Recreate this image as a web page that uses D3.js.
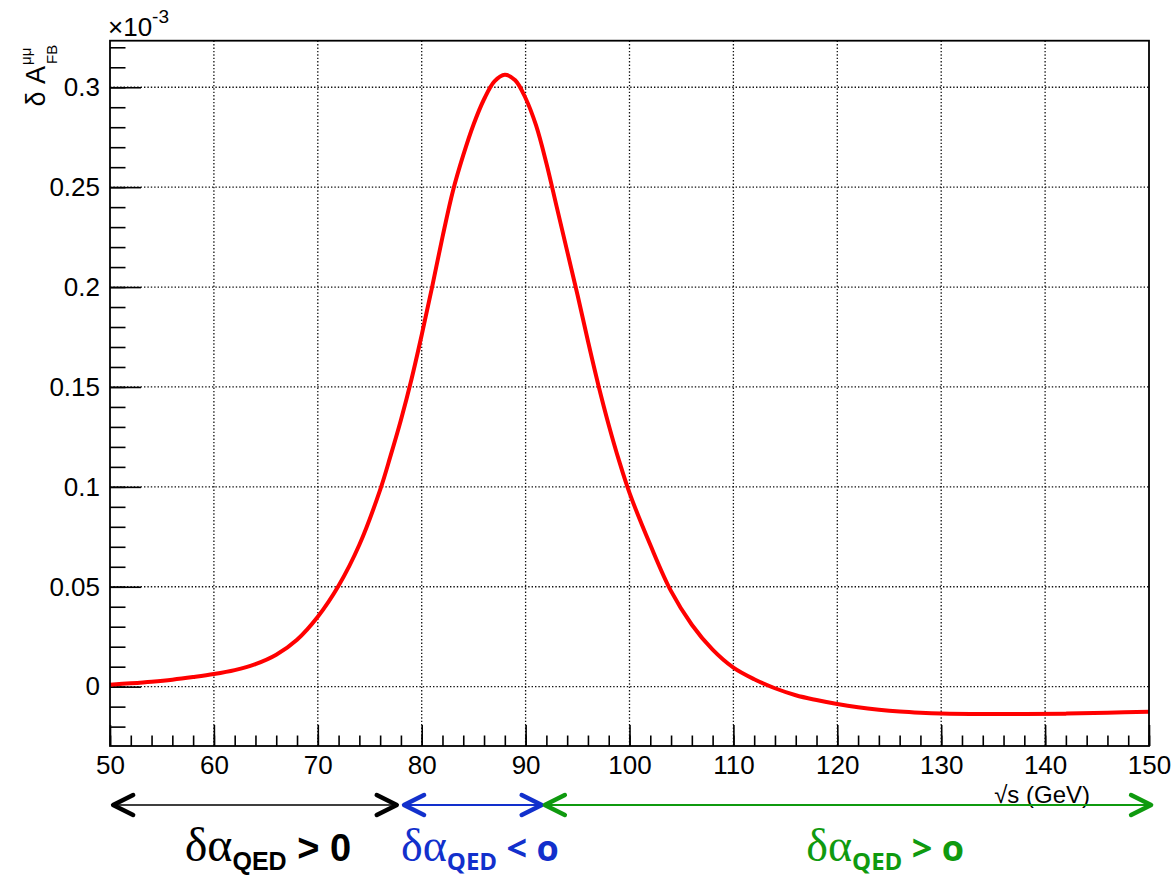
<!DOCTYPE html>
<html>
<head>
<meta charset="utf-8">
<script src="https://cdn.jsdelivr.net/npm/d3@7"></script>
<style>
  body { margin: 0; background: #fff; }
</style>
</head>
<body>
<div id="chart"></div>
<script>
// Data (delta A_FB in units of 1e-3)
const energy = [50, 52, 54, 56, 58, 60, 62, 64, 66, 68, 70, 72, 74, 76, 77, 78, 79, 80,
  81, 82, 83, 84, 85, 86, 87, 88, 89, 90, 91, 92, 93, 94, 95, 96, 97, 98, 99, 100,
  102, 104, 106, 108, 110, 112, 114, 116, 118, 120, 122, 124, 126, 128, 130, 134,
  138, 142, 146, 150];
const deltaAfb = [0.0010, 0.0017, 0.0025, 0.0035, 0.0048, 0.0063, 0.0083, 0.0113,
  0.0160, 0.0235, 0.0350, 0.0505, 0.0710, 0.0985, 0.1155, 0.1335, 0.1535, 0.1760,
  0.2000, 0.2250, 0.2480, 0.2660, 0.2815, 0.2940, 0.3030, 0.3063, 0.3035, 0.2945,
  0.2810, 0.2620, 0.2400, 0.2180, 0.1960, 0.1730, 0.1510, 0.1310, 0.1130, 0.0970,
  0.0710, 0.0478, 0.0310, 0.0185, 0.0095, 0.0037, -0.0008, -0.0043, -0.0067,
  -0.0087, -0.0103, -0.0115, -0.0124, -0.0130, -0.0134, -0.0137, -0.0137, -0.0135,
  -0.0131, -0.0125];

const xTicks = [50, 60, 70, 80, 90, 100, 110, 120, 130, 140, 150];
const yTicks = [0, 0.05, 0.1, 0.15, 0.2, 0.25, 0.3];
const yTickLabels = ["0", "0.05", "0.1", "0.15", "0.2", "0.25", "0.3"];

// regions of sqrt(s) marked with arrows under the axis
const regionFrom = [50.3, 78.3, 91.85];
const regionTo = [77.6, 91.55, 150.2];
const regionLabelAt = [65.2, 85.6, 124.6];
const regionSign = ["> 0", "< o", "> o"];

// styles
const regionColor = ["#000000", "#1230cc", "#0f9a0f"];
const regionFont = ["'Liberation Sans', Arial, sans-serif", "'Open Sans', sans-serif", "'Open Sans', sans-serif"];
const regionSizes = [[48, 25, 38], [46, 24, 36], [46, 24, 36]];

const width = 1176, height = 877;
const plotLeft = 110, plotRight = 1149, plotTop = 40.7, plotBottom = 746;

const x = d3.scaleLinear().domain([50, 150]).range([plotLeft, plotRight]);
const y = d3.scaleLinear().domain([-0.0297, 0.3233]).range([plotBottom, plotTop]);

const svg = d3.select("#chart").append("svg")
  .attr("width", width)
  .attr("height", height)
  .style("font-family", "'Liberation Sans', Arial, sans-serif");

// grid
svg.append("g")
  .selectAll("line")
  .data(xTicks.slice(1, -1))
  .join("line")
  .attr("x1", d => x(d)).attr("x2", d => x(d))
  .attr("y1", plotTop).attr("y2", plotBottom)
  .attr("stroke", "#111").attr("stroke-width", 1.3)
  .attr("stroke-dasharray", "1.4 2");

svg.append("g")
  .selectAll("line")
  .data(yTicks)
  .join("line")
  .attr("x1", plotLeft).attr("x2", plotRight)
  .attr("y1", d => y(d)).attr("y2", d => y(d))
  .attr("stroke", "#111").attr("stroke-width", 1.3)
  .attr("stroke-dasharray", "1.4 2");

// axes
const xMinor = d3.range(50, 150.1, 2);
const yMinor = d3.range(-0.02, 0.321, 0.01);

const styleAxis = g => {
  g.select(".domain").remove();
  g.selectAll("line").attr("stroke", "#000").attr("stroke-width", 1.6);
  g.selectAll("text").attr("fill", "#000");
};

svg.append("g")
  .attr("transform", `translate(0,${plotBottom})`)
  .call(d3.axisBottom(x).tickValues(xMinor).tickSize(-10.5).tickFormat(""))
  .call(styleAxis);

svg.append("g")
  .attr("transform", `translate(0,${plotBottom})`)
  .call(d3.axisBottom(x).tickValues(xTicks).tickSize(-21).tickPadding(10).tickFormat(d3.format("d")))
  .call(styleAxis)
  .call(g => g.selectAll("text").attr("font-size", 26).attr("font-family", "'Liberation Sans', Arial, sans-serif"));

svg.append("g")
  .attr("transform", `translate(${plotLeft},0)`)
  .call(d3.axisLeft(y).tickValues(yMinor).tickSize(-15.5).tickFormat(""))
  .call(styleAxis);

svg.append("g")
  .attr("transform", `translate(${plotLeft},0)`)
  .call(d3.axisLeft(y).tickValues(yTicks).tickSize(-31).tickPadding(10)
    .tickFormat((d, i) => yTickLabels[i]))
  .call(styleAxis)
  .call(g => g.selectAll("text").attr("font-size", 26).attr("font-family", "'Liberation Sans', Arial, sans-serif"));

// curve
const line = d3.line()
  .x((d, i) => x(energy[i]))
  .y(d => y(d))
  .curve(d3.curveCatmullRom.alpha(0.5));

svg.append("path")
  .datum(deltaAfb)
  .attr("fill", "none")
  .attr("stroke", "#ff0000")
  .attr("stroke-width", 4)
  .attr("stroke-linejoin", "round")
  .attr("d", line);

// frame
svg.append("rect")
  .attr("x", plotLeft).attr("y", plotTop)
  .attr("width", plotRight - plotLeft).attr("height", plotBottom - plotTop)
  .attr("fill", "none").attr("stroke", "#000").attr("stroke-width", 1.8);

// exponent
svg.append("text")
  .attr("x", 108).attr("y", 36)
  .attr("font-size", 26)
  .text("×10")
  .append("tspan")
  .attr("dy", -13)
  .attr("font-size", 19)
  .text("-3");

// y title
const yt = svg.append("g").attr("transform", "translate(45,41) rotate(-90)");
yt.append("text").attr("x", -25).attr("y", 0).attr("text-anchor", "end")
  .attr("font-size", 27).text("δ A");
yt.append("text").attr("x", -23).attr("y", 12).attr("font-size", 15).text("FB");
yt.append("text").attr("x", -24).attr("y", -14).attr("font-size", 15).text("μμ");

// x title
svg.append("text")
  .attr("x", 1090).attr("y", 803)
  .attr("text-anchor", "end")
  .attr("font-size", 24)
  .text("√s (GeV)");

// region arrows
const arrowY = 805, headDx = 20, headDy = 10;
regionFrom.forEach((from, i) => {
  const x0 = x(from), x1 = x(regionTo[i]);
  const g = svg.append("g")
    .attr("stroke", regionColor[i])
    .attr("fill", "none")
    .attr("stroke-linecap", "round")
    .attr("stroke-linejoin", "round");
  g.append("line")
    .attr("x1", x0).attr("x2", x1)
    .attr("y1", arrowY).attr("y2", arrowY)
    .attr("stroke-width", i === 0 ? 1.6 : 2.2);
  g.append("path")
    .attr("stroke-width", 4.5)
    .attr("d", `M${x0 + headDx},${arrowY - headDy}L${x0},${arrowY}L${x0 + headDx},${arrowY + headDy}`);
  g.append("path")
    .attr("stroke-width", 4.5)
    .attr("d", `M${x1 - headDx},${arrowY - headDy}L${x1},${arrowY}L${x1 - headDx},${arrowY + headDy}`);

  const [s1, s2, s3] = regionSizes[i];
  const t = svg.append("text")
    .attr("x", x(regionLabelAt[i]))
    .attr("y", 861)
    .attr("text-anchor", "middle")
    .attr("fill", regionColor[i]);
  t.append("tspan")
    .attr("font-family", "'Liberation Serif', 'Times New Roman', serif")
    .attr("font-size", s1)
    .text("δα");
  t.append("tspan")
    .attr("font-family", regionFont[i])
    .attr("font-weight", "bold")
    .attr("font-size", s2)
    .attr("dy", 9)
    .text("QED");
  t.append("tspan")
    .attr("font-family", regionFont[i])
    .attr("font-weight", "bold")
    .attr("font-size", s3)
    .attr("dy", -9)
    .text(" " + regionSign[i]);
});
</script>
</body>
</html>
